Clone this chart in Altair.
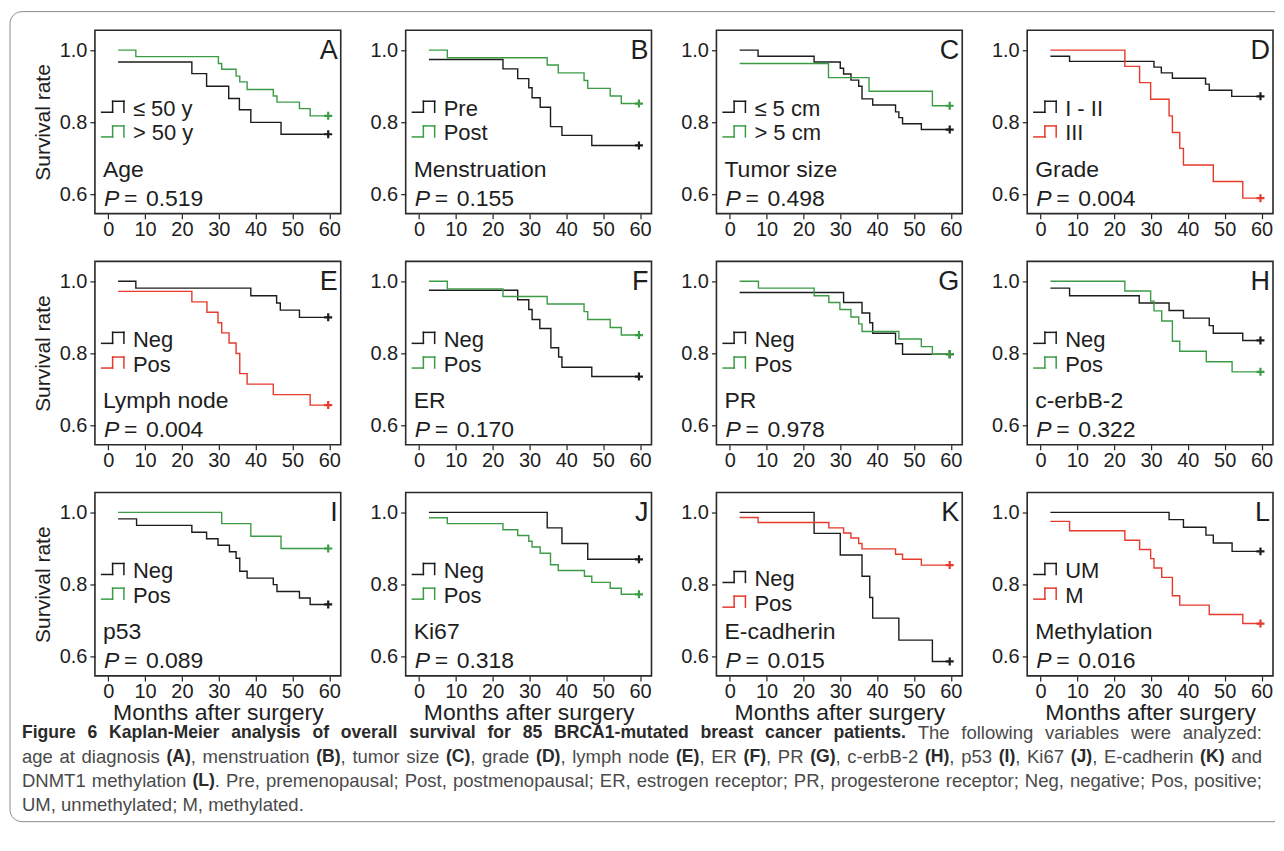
import altair as alt
import pandas as pd

# ---------------- data ----------------
A_le50_t = [2.7, 22.7, 26.7, 32.7, 35.6, 38.7, 46.9, 59.7]
A_le50_s = [0.967, 0.935, 0.900, 0.866, 0.835, 0.800, 0.767, 0.767]
A_gt50_t = [2.7, 7.5, 29.9, 30.8, 34.7, 35.7, 37.7, 44.8, 45.8, 51.9, 54.8, 59.7]
A_gt50_s = [1.0, 0.982, 0.963, 0.947, 0.928, 0.912, 0.891, 0.873, 0.856, 0.838, 0.818, 0.818]

B_pre_t = [2.7, 22.8, 26.8, 29.8, 30.7, 32.9, 35.7, 38.8, 46.9, 59.7]
B_pre_s = [0.974, 0.948, 0.921, 0.896, 0.868, 0.842, 0.788, 0.764, 0.736, 0.736]
B_post_t = [2.7, 7.7, 34.8, 37.8, 44.8, 45.8, 51.9, 54.9, 59.7]
B_post_s = [1.0, 0.979, 0.959, 0.937, 0.916, 0.894, 0.873, 0.852, 0.852]

C_le5_t = [2.7, 7.7, 22.9, 30.0, 30.9, 32.9, 35.0, 35.9, 38.8, 45.0, 45.9, 46.9, 52.0, 59.7]
C_le5_s = [1.0, 0.983, 0.967, 0.950, 0.934, 0.917, 0.900, 0.865, 0.848, 0.829, 0.813, 0.796, 0.780, 0.780]
C_gt5_t = [2.7, 26.8, 37.8, 55.0, 59.7]
C_gt5_s = [0.963, 0.924, 0.886, 0.846, 0.846]

D_low_t = [2.7, 7.9, 30.8, 32.8, 35.8, 44.8, 45.8, 51.9, 59.7]
D_low_s = [0.983, 0.969, 0.953, 0.937, 0.922, 0.906, 0.889, 0.872, 0.872]
D_high_t = [2.7, 22.9, 26.9, 29.9, 34.9, 35.8, 37.8, 38.8, 46.9, 54.9, 59.7]
D_high_s = [1.0, 0.955, 0.910, 0.864, 0.818, 0.772, 0.728, 0.682, 0.636, 0.590, 0.590]

E_neg_t = [2.7, 7.5, 38.7, 45.7, 46.7, 51.9, 59.7]
E_neg_s = [1.0, 0.981, 0.960, 0.940, 0.920, 0.900, 0.900]
E_pos_t = [2.7, 22.7, 26.8, 29.8, 30.8, 32.8, 34.7, 35.7, 37.7, 44.8, 54.8, 59.7]
E_pos_s = [0.972, 0.943, 0.914, 0.885, 0.857, 0.829, 0.800, 0.744, 0.715, 0.686, 0.657, 0.657]

F_neg_t = [2.7, 26.8, 29.8, 30.7, 32.8, 35.8, 37.9, 38.8, 46.9, 59.7]
F_neg_s = [0.975, 0.949, 0.922, 0.894, 0.869, 0.816, 0.790, 0.762, 0.736, 0.736]
F_pos_t = [2.7, 7.7, 22.8, 34.8, 44.8, 45.8, 51.9, 54.9, 59.7]
F_pos_s = [1.0, 0.979, 0.958, 0.937, 0.916, 0.894, 0.872, 0.851, 0.851]

G_neg_t = [2.7, 30.9, 35.9, 38.0, 38.8, 45.0, 46.9, 59.7]
G_neg_s = [0.969, 0.941, 0.912, 0.885, 0.856, 0.827, 0.798, 0.798]
G_pos_t = [2.7, 7.8, 22.9, 26.9, 29.9, 32.9, 35.0, 35.9, 45.9, 52.0, 55.0, 59.7]
G_pos_s = [1.0, 0.981, 0.960, 0.941, 0.922, 0.901, 0.882, 0.861, 0.840, 0.819, 0.798, 0.798]

H_neg_t = [2.7, 7.9, 26.8, 34.9, 38.8, 45.8, 46.9, 54.9, 59.7]
H_neg_s = [0.981, 0.960, 0.940, 0.919, 0.898, 0.877, 0.856, 0.836, 0.836]
H_pos_t = [2.7, 22.9, 29.9, 30.8, 32.9, 35.8, 37.8, 45.0, 52.0, 59.7]
H_pos_s = [1.0, 0.973, 0.945, 0.918, 0.890, 0.834, 0.806, 0.777, 0.749, 0.749]

I_neg_t = [2.7, 7.7, 22.7, 26.7, 29.8, 32.9, 34.7, 35.7, 37.7, 44.8, 45.8, 51.9, 54.8, 59.7]
I_neg_s = [0.982, 0.964, 0.945, 0.927, 0.909, 0.891, 0.873, 0.837, 0.818, 0.800, 0.781, 0.763, 0.745, 0.745]
I_pos_t = [2.7, 30.8, 38.7, 46.9, 59.7]
I_pos_s = [1.0, 0.969, 0.934, 0.900, 0.900]

J_neg_t = [2.7, 34.8, 38.8, 45.8, 59.7]
J_neg_s = [1.0, 0.957, 0.914, 0.870, 0.870]
J_pos_t = [2.7, 7.7, 22.8, 26.8, 29.8, 30.7, 32.9, 35.7, 37.8, 44.9, 46.9, 51.9, 54.9, 59.7]
J_pos_s = [0.985, 0.969, 0.952, 0.936, 0.920, 0.904, 0.887, 0.855, 0.839, 0.823, 0.806, 0.790, 0.773, 0.773]

K_neg_t = [2.7, 22.9, 30.0, 35.9, 38.0, 38.8, 45.9, 55.0, 59.7]
K_neg_s = [1.0, 0.942, 0.882, 0.823, 0.764, 0.707, 0.646, 0.587, 0.587]
K_pos_t = [2.7, 7.7, 26.9, 30.9, 32.9, 35.0, 35.9, 45.0, 46.9, 52.0, 59.7]
K_pos_s = [0.986, 0.972, 0.957, 0.943, 0.929, 0.914, 0.899, 0.884, 0.870, 0.854, 0.854]

L_um_t = [2.7, 34.9, 38.8, 44.9, 46.9, 52.0, 59.7]
L_um_s = [1.0, 0.980, 0.959, 0.937, 0.915, 0.892, 0.892]
L_m_t = [2.7, 7.9, 22.9, 26.9, 29.9, 30.8, 32.9, 35.8, 37.8, 45.8, 54.9, 59.7]
L_m_s = [0.975, 0.949, 0.923, 0.897, 0.872, 0.846, 0.820, 0.769, 0.743, 0.717, 0.692, 0.692]

panel_letters = ["A", "B", "C", "D", "E", "F", "G", "H", "I", "J", "K", "L"]
variable_names = ["Age", "Menstruation", "Tumor size", "Grade", "Lymph node", "ER",
                  "PR", "c-erbB-2", "p53", "Ki67", "E-cadherin", "Methylation"]
p_values = ["0.519", "0.155", "0.498", "0.004", "0.004", "0.170",
            "0.978", "0.322", "0.089", "0.318", "0.015", "0.016"]
group_labels = [["≤ 50 y", "> 50 y"], ["Pre", "Post"], ["≤ 5 cm", "> 5 cm"], ["I - II", "III"],
                ["Neg", "Pos"], ["Neg", "Pos"], ["Neg", "Pos"], ["Neg", "Pos"],
                ["Neg", "Pos"], ["Neg", "Pos"], ["Neg", "Pos"], ["UM", "M"]]
x_ticks = [0, 10, 20, 30, 40, 50, 60]
y_ticks = [0.6, 0.8, 1.0]

caption_lines = [
    [("Figure 6 Kaplan-Meier analysis of overall survival for 85 BRCA1-mutated breast cancer patients.", True),
     (" The following variables were analyzed:", False)],
    [("age at diagnosis ", False), ("(A)", True), (", menstruation ", False), ("(B)", True),
     (", tumor size ", False), ("(C)", True), (", grade ", False), ("(D)", True),
     (", lymph node ", False), ("(E)", True), (", ER ", False), ("(F)", True),
     (", PR ", False), ("(G)", True), (", c-erbB-2 ", False), ("(H)", True),
     (", p53 ", False), ("(I)", True), (", Ki67 ", False), ("(J)", True),
     (", E-cadherin ", False), ("(K)", True), (" and", False)],
    [("DNMT1 methylation ", False), ("(L)", True),
     (". Pre, premenopausal; Post, postmenopausal; ER, estrogen receptor; PR, progesterone receptor; Neg, negative; Pos, positive;", False)],
    [("UM, unmethylated; M, methylated.", False)],
]

# ---------------- styling ----------------
FONT = "Liberation Sans"
BLACK = "#1c1c1c"
GREEN = "#3c9c46"
RED = "#e53a2c"
TXT = "#1e1e1e"
W, H = 246, 183.5
X_DOMAIN = [-3.6, 63.1]
Y_DOMAIN = [0.547, 1.055]
BOLD_SCALE = 0.95

series = [
    [(A_le50_t, A_le50_s), (A_gt50_t, A_gt50_s)],
    [(B_pre_t, B_pre_s), (B_post_t, B_post_s)],
    [(C_le5_t, C_le5_s), (C_gt5_t, C_gt5_s)],
    [(D_low_t, D_low_s), (D_high_t, D_high_s)],
    [(E_neg_t, E_neg_s), (E_pos_t, E_pos_s)],
    [(F_neg_t, F_neg_s), (F_pos_t, F_pos_s)],
    [(G_neg_t, G_neg_s), (G_pos_t, G_pos_s)],
    [(H_neg_t, H_neg_s), (H_pos_t, H_pos_s)],
    [(I_neg_t, I_neg_s), (I_pos_t, I_pos_s)],
    [(J_neg_t, J_neg_s), (J_pos_t, J_pos_s)],
    [(K_neg_t, K_neg_s), (K_pos_t, K_pos_s)],
    [(L_um_t, L_um_s), (L_m_t, L_m_s)],
]
second_colors = [GREEN, GREEN, GREEN, RED, RED, GREEN, GREEN, GREEN, GREEN, GREEN, RED, RED]
legend_shift = [0, 0, 0, 0, 0, 0, 0, 0, 0, 0, 8, 0]

ONE = pd.DataFrame({"k": [0]})

# Arial / Liberation Sans advance widths (1/1000 em)
REG = {' ': 278, '(': 333, ')': 333, ',': 278, '-': 333, '.': 278, ':': 278, ';': 278,
       'A': 667, 'B': 667, 'C': 722, 'D': 722, 'E': 667, 'F': 611, 'G': 778, 'H': 722, 'I': 278,
       'J': 500, 'K': 667, 'L': 556, 'M': 833, 'N': 722, 'O': 778, 'P': 667, 'Q': 778, 'R': 722,
       'S': 667, 'T': 611, 'U': 722, 'V': 667, 'W': 944, 'X': 667, 'Y': 667, 'Z': 611,
       'a': 556, 'b': 556, 'c': 500, 'd': 556, 'e': 556, 'f': 278, 'g': 556, 'h': 556, 'i': 222,
       'j': 222, 'k': 500, 'l': 222, 'm': 833, 'n': 556, 'o': 556, 'p': 556, 'q': 556, 'r': 333,
       's': 500, 't': 278, 'u': 556, 'v': 500, 'w': 722, 'x': 500, 'y': 500, 'z': 500}
BOLD = {' ': 278, '(': 333, ')': 333, ',': 278, '-': 333, '.': 278, ':': 333, ';': 333,
        'A': 722, 'B': 722, 'C': 722, 'D': 722, 'E': 667, 'F': 611, 'G': 778, 'H': 722, 'I': 278,
        'J': 556, 'K': 722, 'L': 611, 'M': 833, 'N': 722, 'O': 778, 'P': 667, 'Q': 778, 'R': 722,
        'S': 667, 'T': 611, 'U': 722, 'V': 667, 'W': 944, 'X': 667, 'Y': 667, 'Z': 611,
        'a': 556, 'b': 611, 'c': 556, 'd': 611, 'e': 556, 'f': 333, 'g': 611, 'h': 611, 'i': 278,
        'j': 278, 'k': 556, 'l': 278, 'm': 889, 'n': 611, 'o': 611, 'p': 611, 'q': 611, 'r': 389,
        's': 556, 't': 333, 'u': 611, 'v': 556, 'w': 778, 'x': 556, 'y': 556, 'z': 500}


def text_em(s, bold):
    tab = BOLD if bold else REG
    w = sum(tab.get(c, 556) for c in s) / 1000.0
    return w * BOLD_SCALE if bold else w


def txt(text, x, y, size, align="left", baseline="alphabetic", style="normal",
        weight="normal", color=TXT):
    return alt.Chart(ONE).mark_text(
        text=text, align=align, baseline=baseline, fontSize=size, font=FONT,
        fontStyle=style, fontWeight=weight, color=color
    ).encode(x=alt.value(x), y=alt.value(y))


def seg(x1, y1, x2, y2, color, width=1.5, cap="square"):
    return alt.Chart(ONE).mark_rule(color=color, strokeWidth=width, strokeCap=cap).encode(
        x=alt.value(x1), x2=alt.value(x2), y=alt.value(y1), y2=alt.value(y2))


def icon(x0, yb, color):
    pts = [(x0, yb), (x0 + 11, yb), (x0 + 11, yb - 11), (x0 + 22.3, yb - 11), (x0 + 22.3, yb)]
    return [seg(a[0], a[1], b[0], b[1], color) for a, b in zip(pts[:-1], pts[1:])]


def tokenize(line):
    toks = []
    pending = False
    for text, bold in line:
        parts = text.split(" ")
        for j, p in enumerate(parts):
            if j > 0:
                pending = True
            if p == "":
                continue
            toks.append((p, bold, pending and len(toks) > 0))
            pending = False
    return toks


def caption_layers(x0, width, ys_cap):
    out = []
    fs = (width - 14) / sum(text_em(t, b) for t, b in caption_lines[2])
    for li, (line, yc) in enumerate(zip(caption_lines, ys_cap)):
        toks = tokenize(line)
        space = 0.278 * fs
        natural = sum(text_em(p, b) * fs for p, b, _ in toks) + space * sum(s for _, _, s in toks)
        ngaps = sum(s for _, _, s in toks)
        justify = li < len(caption_lines) - 1
        extra = (width - natural) / ngaps if (justify and ngaps) else 0.0
        x = x0
        for p, b, sp in toks:
            if sp:
                x += space + extra
            out.append(txt(p, x, yc, fs * (BOLD_SCALE if b else 1.0), baseline="middle",
                           weight="bold" if b else "normal",
                           color="#2a2a2a" if b else "#4a4a4a"))
            x += text_em(p, b) * fs
    return out


def make_panel(i):
    row, col = divmod(i, 4)
    xaxis = alt.Axis(values=x_ticks, title="Months after surgery" if row == 2 else "",
                     labelFontSize=20, labelFont=FONT, labelColor=TXT, labelPadding=1,
                     tickSize=5, tickColor="#222", tickWidth=1.2, domain=False, grid=False,
                     titleFontSize=23, titleFont=FONT, titleFontWeight="normal", titleColor=TXT,
                     titlePadding=0, labelFlush=False)
    yaxis = alt.Axis(values=y_ticks, format=".1f", title="Survival rate" if col == 0 else "",
                     labelFontSize=20, labelFont=FONT, labelColor=TXT, labelPadding=3,
                     tickSize=5, tickColor="#222", tickWidth=1.2, domain=False, grid=False,
                     titleFontSize=21, titleFont=FONT, titleFontWeight="normal", titleColor=TXT,
                     titlePadding=6, labelFlush=False)
    xs = alt.Scale(domain=X_DOMAIN, nice=False, zero=False)
    ys = alt.Scale(domain=Y_DOMAIN, nice=False, zero=False)
    colors = [BLACK, second_colors[i]]
    layers = []
    for (t, s), c in zip(series[i], colors):
        df = pd.DataFrame({"t": t, "s": s})
        enc = dict(x=alt.X("t:Q", scale=xs, axis=xaxis), y=alt.Y("s:Q", scale=ys, axis=yaxis))
        layers.append(alt.Chart(df).mark_line(interpolate="step-after", color=c,
                                              strokeWidth=1.4).encode(**enc))
        layers.append(alt.Chart(df.tail(1)).mark_point(
            shape="M-1,0H1M0,-1V1", size=64, filled=False, strokeWidth=2.2,
            color=c, opacity=1).encode(**enc))
    # panel letter
    layers.append(txt(panel_letters[i], 243, 28.5, 27, align="right"))
    # legend
    dy = legend_shift[i]
    for k, (lab, c) in enumerate(zip(group_labels[i], colors)):
        yb = 82 + dy + k * 24.7
        layers += icon(6.7, yb, c)
        layers.append(txt(lab, 38, yb + 3.5, 22))
    # variable + P value
    layers.append(txt(variable_names[i], 8, 147, 23))
    layers.append(txt("P", 9, 176, 23, style="italic"))
    layers.append(txt("=", 29, 176, 23))
    layers.append(txt(p_values[i], 51, 176, 23))

    if i == 0:
        # outer frame of the figure (its right side runs past the picture)
        layers.insert(0, alt.Chart(ONE).mark_rect(
            fillOpacity=0, stroke="#8a8a8a", strokeWidth=1,
            cornerRadiusTopLeft=12, cornerRadiusBottomLeft=12
        ).encode(x=alt.value(-85), x2=alt.value(1180.5), y=alt.value(-18.7), y2=alt.value(792)))
        layers.insert(1, seg(1180.5, -17.8, 1180.5, 791.1, "white", width=1.4, cap="butt"))
    if i == 8:
        # caption, placed relative to this panel, justified like the reference
        layers += caption_layers(-73, 1241, [240.2, 264.5, 289.0, 313.0])
    return alt.layer(*layers).properties(width=W, height=H)


panels = [make_panel(i) for i in range(12)]

chart = alt.concat(
    *panels, columns=4, spacing={"row": 47.3, "column": 65}, bounds="flush"
).properties(
    padding={"left": 0, "top": 2, "right": 0, "bottom": 0},
    background="white",
).configure_view(stroke="#2a2a2a", strokeWidth=1.6)

chart.save("out.html", embed_options={"renderer": "svg", "actions": False})
